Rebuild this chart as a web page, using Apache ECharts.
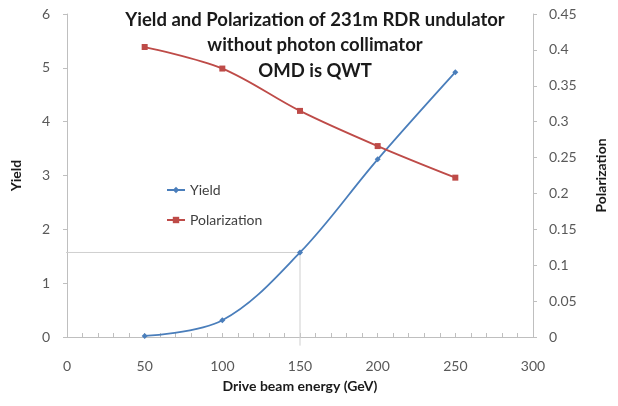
<!DOCTYPE html>
<html><head><meta charset="utf-8">
<script src="https://cdn.jsdelivr.net/npm/echarts@6/dist/echarts.min.js"></script>
<style>html,body{margin:0;padding:0;background:#fff}#c{width:618px;height:406px}</style>
</head><body><div id="c"></div>
<script>
const energy = [50, 100, 150, 200, 250];
const yieldVals = [0.02, 0.31, 1.57, 3.3, 4.92];
const polVals = [0.404, 0.374, 0.315, 0.266, 0.222];
const titleLines = ['Yield and Polarization of 231m RDR undulator', 'without photon collimator', 'OMD is QWT'];
const markIndex = 2;

const FONT = 'Lato';
const chart = echarts.init(document.getElementById('c'), null, {renderer: 'canvas'});
const mx = energy[markIndex], my = yieldVals[markIndex];
chart.setOption({
  animation: false,
  textStyle: {fontFamily: FONT},
  title: {
    text: titleLines.join('\n'),
    left: 310, top: 2, textAlign: 'center',
    textStyle: {fontFamily: FONT, fontWeight: 'bold', fontSize: 18.5, lineHeight: 25.5, color: '#1a1a1a'}
  },
  legend: {
    orient: 'vertical', left: 161, top: 178, itemGap: 16, itemWidth: 18, itemHeight: 8,
    textStyle: {fontFamily: FONT, fontSize: 14, color: '#404040'},
    data: ['Yield', 'Polarization']
  },
  grid: {left: 67, right: 85, top: 14, bottom: 69, containLabel: false},
  xAxis: {
    type: 'value', min: 0, max: 300, interval: 50,
    name: 'Drive beam energy (GeV)', nameLocation: 'middle', nameGap: 42,
    nameTextStyle: {fontFamily: FONT, fontWeight: 'bold', fontSize: 14, color: '#1a1a1a'},
    axisLine: {lineStyle: {color: '#bfbfbf'}},
    axisTick: {show: true, inside: true, length: 4, lineStyle: {color: '#bfbfbf'}},
    minorTick: {show: true, splitNumber: 5, length: 4, lineStyle: {color: '#bfbfbf'}},
    axisLabel: {fontFamily: FONT, fontSize: 14, color: '#595959', margin: 22},
    splitLine: {show: false}
  },
  yAxis: [{
    type: 'value', min: 0, max: 6, interval: 1,
    name: 'Yield', nameLocation: 'middle', nameGap: 44, nameRotate: 90,
    nameTextStyle: {fontFamily: FONT, fontWeight: 'bold', fontSize: 14, color: '#1a1a1a'},
    axisLine: {show: true, lineStyle: {color: '#bfbfbf'}},
    axisTick: {show: true, length: 4, lineStyle: {color: '#bfbfbf'}},
    axisLabel: {fontFamily: FONT, fontSize: 14, color: '#595959', margin: 17},
    splitLine: {show: false}
  }, {
    type: 'value', min: 0, max: 0.45, interval: 0.05, position: 'right',
    name: 'Polarization', nameLocation: 'middle', nameGap: 61, nameRotate: 90,
    nameTextStyle: {fontFamily: FONT, fontWeight: 'bold', fontSize: 14, color: '#1a1a1a'},
    axisLine: {show: true, lineStyle: {color: '#bfbfbf'}},
    axisTick: {show: true, length: 4, lineStyle: {color: '#bfbfbf'}},
    axisLabel: {fontFamily: FONT, fontSize: 14, color: '#595959', margin: 16},
    splitLine: {show: false}
  }],
  series: [{
    name: 'drop', type: 'line', yAxisIndex: 0, silent: true, clip: false,
    data: [[-9, my], [mx, my], [mx, -0.16]],
    symbol: 'none', lineStyle: {color: '#cfcfcf', width: 1}, z: 1
  }, {
    name: 'Yield', type: 'line', yAxisIndex: 0, smooth: 0.35,
    data: energy.map((e, i) => [e, yieldVals[i]]),
    symbol: 'diamond', symbolSize: 6,
    lineStyle: {color: '#4a7ebb', width: 1.8},
    itemStyle: {color: '#4a7ebb'}, z: 3
  }, {
    name: 'Polarization', type: 'line', yAxisIndex: 1, smooth: 0.35,
    data: energy.map((e, i) => [e, polVals[i]]),
    symbol: 'rect', symbolSize: 6,
    lineStyle: {color: '#be4b48', width: 1.8},
    itemStyle: {color: '#be4b48'}, z: 3
  }]
});
</script></body></html>
